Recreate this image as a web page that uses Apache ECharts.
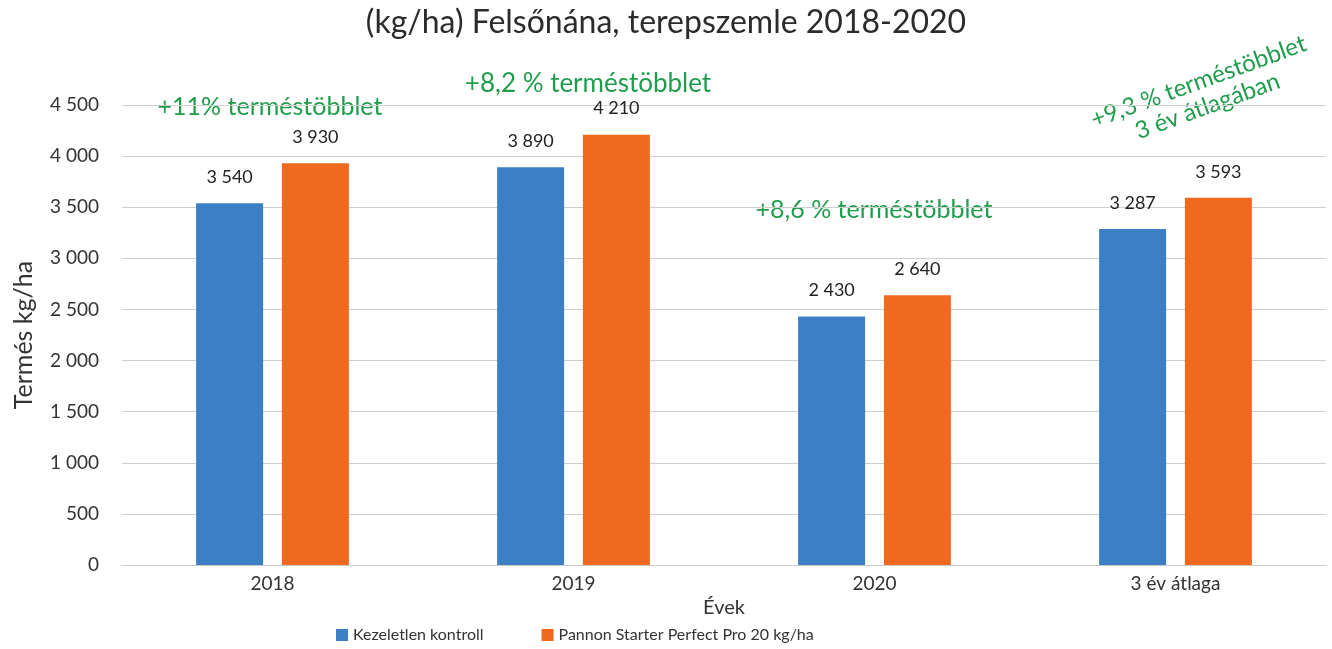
<!DOCTYPE html>
<html>
<head>
<meta charset="utf-8">
<script src="https://cdn.jsdelivr.net/npm/echarts@6/dist/echarts.min.js"></script>
<style>
  html, body { margin: 0; padding: 0; background: #fff; }
  #chart { width: 1332px; height: 649px; }
</style>
</head>
<body>
<div id="chart"></div>
<script>
const categories = ['2018', '2019', '2020', '3 év átlaga']
const controlValues = [3540, 3890, 2430, 3287]
const treatedValues = [3930, 4210, 2640, 3593]
const seriesNames = ['Kezeletlen kontroll', 'Pannon Starter Perfect Pro 20 kg/ha']
const notes = ['+11% terméstöbblet', '+8,2 % terméstöbblet', '+8,6 % terméstöbblet', '+9,3 % terméstöbblet\n3 év átlagában']

const font = 'Lato, "Open Sans", sans-serif'
const green = '#1f9d4c'
const fmt = (v) => String(v).replace(/\B(?=(\d{3})+(?!\d))/g, ' ')

const chart = echarts.init(document.getElementById('chart'))
const option = {
  backgroundColor: '#fff',
  textStyle: { fontFamily: font },
  color: ['#3b7fc4', '#f0691f'],
  title: {
    text: '(kg/ha) Felsőnána, terepszemle 2018-2020',
    left: 'center',
    top: 2,
    textStyle: { fontFamily: font, fontSize: 32, fontWeight: 'normal', color: '#2b2b2b' },
  },
  legend: {
    data: seriesNames,
    bottom: 1,
    left: 331,
    itemWidth: 12,
    itemHeight: 12,
    itemGap: 58,
    icon: 'rect',
    textStyle: { fontFamily: font, fontSize: 16, color: '#333' },
  },
  grid: { left: 122, right: 6, top: 105, bottom: 84 },
  xAxis: {
    type: 'category',
    data: categories,
    name: 'Évek',
    nameLocation: 'middle',
    nameGap: 31,
    nameTextStyle: { fontSize: 20, color: '#333' },
    axisTick: { show: false },
    axisLine: { lineStyle: { color: '#c8c8c8' } },
    axisLabel: { fontSize: 19, color: '#333', margin: 9 },
  },
  yAxis: {
    type: 'value',
    min: 0,
    max: 4500,
    interval: 500,
    name: 'Termés kg/ha',
    nameLocation: 'middle',
    nameGap: 86,
    nameTextStyle: { fontSize: 25, color: '#333' },
    axisLabel: { fontSize: 19, color: '#333', margin: 23, formatter: fmt },
    splitLine: { lineStyle: { color: '#cfcfcf' } },
  },
  series: [controlValues, treatedValues].map((vals, i) => ({
    name: seriesNames[i],
    type: 'bar',
    data: vals,
    barWidth: 67,
    barGap: '28%',
    label: {
      show: true,
      position: 'top',
      distance: 17,
      fontSize: 18,
      color: '#222',
      formatter: (p) => fmt(p.value),
    },
  })),
  graphic: [
    { type: 'text', x: 270, y: 107, style: { text: notes[0], fill: green, font: '25px ' + font, align: 'center', verticalAlign: 'middle' } },
    { type: 'text', x: 588, y: 84, style: { text: notes[1], fill: green, font: '26px ' + font, align: 'center', verticalAlign: 'middle' } },
    { type: 'text', x: 874, y: 210, style: { text: notes[2], fill: green, font: '25px ' + font, align: 'center', verticalAlign: 'middle' } },
    { type: 'text', x: 1203, y: 94, rotation: 0.35, style: { text: notes[3], fill: green, font: '24px ' + font, align: 'center', verticalAlign: 'middle', lineHeight: 26 } },
  ],
}
option && chart.setOption(option)
</script>
</body>
</html>
